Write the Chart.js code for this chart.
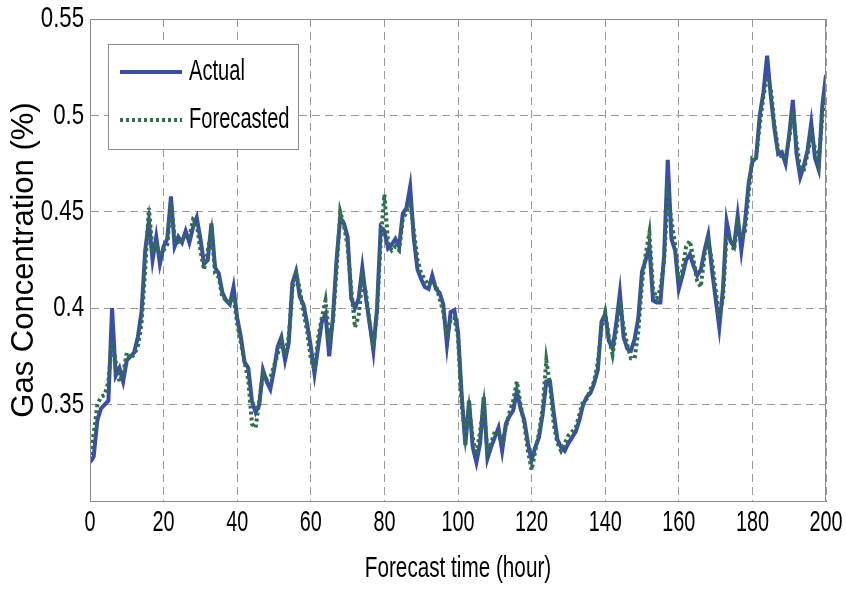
<!DOCTYPE html>
<html>
<head>
<meta charset="utf-8">
<script src="https://cdn.jsdelivr.net/npm/chart.js@4/dist/chart.umd.min.js"></script>
<style>
html,body{margin:0;padding:0;background:#fff;}
#wrap{width:846px;height:590px;}
</style>
</head>
<body>
<div id="wrap"><canvas id="c" width="846" height="590"></canvas></div>
<script>
// ---- data ----
const hours = Array.from({length: 201}, (_, i) => i);

const actual = [
0.320,0.323,0.342,0.348,0.350,0.352,0.400,0.365,0.369,0.362,
0.373,0.375,0.377,0.385,0.398,0.430,0.445,0.425,0.437,0.423,
0.432,0.436,0.458,0.432,0.437,0.434,0.440,0.434,0.442,0.447,
0.436,0.423,0.425,0.444,0.421,0.418,0.408,0.404,0.402,0.411,
0.395,0.385,0.372,0.369,0.352,0.346,0.350,0.368,0.362,0.358,
0.368,0.380,0.385,0.373,0.382,0.413,0.419,0.406,0.402,0.392,
0.380,0.366,0.380,0.393,0.397,0.375,0.395,0.425,0.447,0.444,
0.437,0.405,0.400,0.405,0.421,0.405,0.392,0.378,0.400,0.442,
0.440,0.431,0.433,0.436,0.432,0.449,0.452,0.463,0.436,0.420,
0.415,0.411,0.410,0.417,0.410,0.408,0.402,0.381,0.398,0.399,
0.388,0.355,0.329,0.352,0.328,0.320,0.330,0.354,0.322,0.328,
0.333,0.338,0.326,0.340,0.344,0.347,0.357,0.348,0.342,0.330,
0.321,0.328,0.333,0.345,0.362,0.362,0.346,0.332,0.328,0.326,
0.330,0.333,0.336,0.342,0.350,0.354,0.356,0.361,0.368,0.393,
0.397,0.383,0.379,0.392,0.408,0.385,0.379,0.378,0.384,0.395,
0.419,0.425,0.432,0.404,0.403,0.403,0.427,0.477,0.436,0.430,
0.410,0.417,0.425,0.428,0.422,0.417,0.420,0.430,0.438,0.420,
0.405,0.390,0.410,0.445,0.435,0.432,0.448,0.430,0.445,0.465,
0.476,0.478,0.500,0.512,0.531,0.510,0.493,0.480,0.481,0.475,
0.490,0.508,0.480,0.468,0.474,0.482,0.496,0.478,0.472,0.505,
0.521
];

const forecasted = [
0.324,0.335,0.350,0.354,0.355,0.362,0.383,0.372,0.362,0.366,
0.377,0.374,0.376,0.380,0.392,0.420,0.452,0.430,0.433,0.428,
0.430,0.433,0.455,0.437,0.433,0.437,0.437,0.437,0.446,0.444,
0.430,0.420,0.430,0.440,0.418,0.416,0.405,0.405,0.403,0.406,
0.392,0.382,0.372,0.363,0.340,0.338,0.352,0.366,0.363,0.364,
0.370,0.376,0.383,0.376,0.385,0.410,0.418,0.410,0.398,0.388,
0.374,0.368,0.385,0.395,0.404,0.385,0.392,0.420,0.450,0.443,
0.432,0.410,0.390,0.396,0.415,0.408,0.392,0.380,0.398,0.435,
0.459,0.434,0.430,0.432,0.430,0.446,0.450,0.455,0.440,0.425,
0.418,0.415,0.412,0.414,0.412,0.405,0.398,0.385,0.394,0.395,
0.385,0.350,0.333,0.348,0.333,0.324,0.336,0.350,0.326,0.330,
0.336,0.335,0.330,0.338,0.346,0.352,0.362,0.350,0.340,0.326,
0.316,0.326,0.335,0.348,0.373,0.360,0.340,0.330,0.326,0.330,
0.334,0.336,0.338,0.345,0.352,0.353,0.358,0.362,0.372,0.390,
0.398,0.385,0.376,0.388,0.404,0.390,0.381,0.374,0.374,0.388,
0.413,0.428,0.439,0.410,0.405,0.410,0.425,0.458,0.446,0.433,
0.414,0.420,0.432,0.435,0.425,0.414,0.411,0.428,0.434,0.425,
0.410,0.395,0.405,0.438,0.436,0.430,0.444,0.436,0.440,0.460,
0.478,0.478,0.495,0.510,0.520,0.514,0.495,0.482,0.478,0.478,
0.488,0.502,0.486,0.472,0.472,0.480,0.490,0.483,0.475,0.500,
0.515
];

const seriesNames = ['Actual', 'Forecasted'];
const xTitle = 'Forecast time (hour)';
const yTitle = 'Gas Concentration (%)';

// ---- styling ----
const FONT = "'Liberation Sans', Arial, sans-serif";
const BLUE = '#3a4ea8';
const GREEN = '#2f6f4c';
const FRAME = '#8c8c8c';
const GRID = '#9a9a9a';

// condensed text helper (the reference uses horizontally narrow lettering)
function narrowText(ctx, text, x, y, size, sx, align) {
  ctx.save();
  ctx.translate(x, y);
  ctx.scale(sx, 1);
  ctx.font = size + 'px ' + FONT;
  ctx.fillStyle = '#000';
  ctx.textAlign = align;
  ctx.textBaseline = 'middle';
  ctx.fillText(text, 0, 0);
  ctx.restore();
}

const textPlugin = {
  id: 'narrowText',
  afterDraw(chart) {
    const {ctx, chartArea: a} = chart;
    const xs = chart.scales.x, ys = chart.scales.y;
    // frame
    ctx.save();
    ctx.strokeStyle = FRAME;
    ctx.lineWidth = 1;
    ctx.setLineDash([]);
    ctx.strokeRect(Math.round(a.left) + 0.5, Math.round(a.top) + 0.5,
                   Math.round(a.right - a.left) - 1, Math.round(a.bottom - a.top));
    ctx.restore();
    // x tick labels
    xs.ticks.forEach(t => {
      narrowText(ctx, String(t.value), xs.getPixelForValue(t.value), a.bottom + 22, 30, 0.66, 'center');
    });
    // y tick labels (0.3 sits on the bottom edge and is not labelled)
    ys.ticks.forEach(t => {
      if (Math.abs(t.value - 0.3) < 1e-9) return;
      narrowText(ctx, String(+t.value.toFixed(2)), a.left - 6, ys.getPixelForValue(t.value), 30, 0.74, 'right');
    });
    // x title
    narrowText(ctx, xTitle, (a.left + a.right) / 2, 569, 30, 0.69, 'center');
    // legend box
    ctx.save();
    const bx = 108, by = 44, bw = 190, bh = 105;
    ctx.fillStyle = '#fff';
    ctx.fillRect(bx, by, bw, bh);
    ctx.strokeStyle = FRAME;
    ctx.lineWidth = 1;
    ctx.strokeRect(bx + 0.5, by + 0.5, bw, bh);
    const rows = [72, 120];
    chart.data.datasets.forEach((ds, i) => {
      const y = rows[i];
      ctx.strokeStyle = ds.borderColor;
      ctx.lineWidth = ds.borderWidth;
      ctx.setLineDash(ds.borderDash || []);
      ctx.beginPath();
      ctx.moveTo(120, y);
      ctx.lineTo(182, y);
      ctx.stroke();
      ctx.setLineDash([]);
      narrowText(ctx, ds.label, 189, y, 30, 0.67, 'left');
    });
    ctx.restore();
  }
};

new Chart(document.getElementById('c'), {
  type: 'line',
  data: {
    datasets: [
      {
        label: seriesNames[0],
        data: hours.map((h, i) => ({x: h, y: actual[i]})),
        borderColor: BLUE,
        borderWidth: 4,
        pointRadius: 0,
        tension: 0,
        fill: false,
        order: 1
      },
      {
        label: seriesNames[1],
        data: hours.map((h, i) => ({x: h, y: forecasted[i]})),
        borderColor: GREEN,
        borderWidth: 4,
        borderDash: [3, 3],
        pointRadius: 0,
        tension: 0,
        fill: false,
        order: 0
      }
    ]
  },
  options: {
    responsive: false,
    devicePixelRatio: 1,
    animation: false,
    layout: {padding: {left: 0, right: 20, top: 19, bottom: 0}},
    plugins: {legend: {display: false}, tooltip: {enabled: false}},
    scales: {
      x: {
        type: 'linear',
        min: 0, max: 200,
        ticks: {stepSize: 20, display: false},
        grid: {color: GRID, lineWidth: 1, drawTicks: false},
        border: {display: true, color: FRAME, width: 1, dash: [8, 5]},
        title: {display: false, text: xTitle},
        afterFit(s) { s.height = 89; }
      },
      y: {
        min: 0.3, max: 0.55,
        ticks: {stepSize: 0.05, display: false},
        grid: {color: GRID, lineWidth: 1, drawTicks: false},
        border: {display: true, color: FRAME, width: 1, dash: [8, 5]},
        title: {display: true, text: yTitle, color: '#000', font: {family: FONT, size: 31}, padding: {top: 6, bottom: 0}},
        afterFit(s) { s.width = 90; }
      }
    }
  },
  plugins: [textPlugin]
});
</script>
</body>
</html>
